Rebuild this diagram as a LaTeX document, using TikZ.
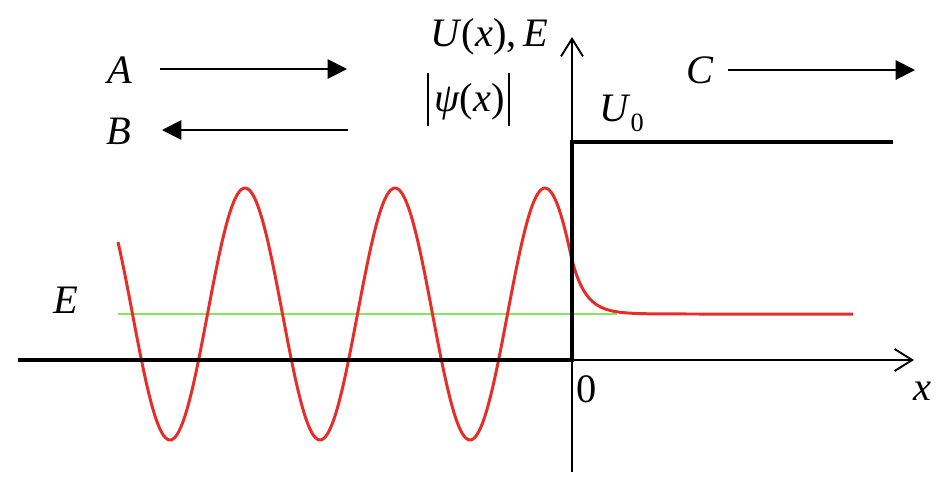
\documentclass[tikz,border=0pt]{standalone}
\usepackage{fontspec}
\setmainfont{Liberation Serif}
\usetikzlibrary{arrows.meta}
\definecolor{elevel}{RGB}{135,228,95}
\definecolor{wave}{RGB}{232,45,40}
\tikzset{
  lbl/.style={inner sep=0pt, font=\fontsize{23}{26}\selectfont},
  axis/.style={line width=1.1pt, -{Straight Barb[length=10pt,width=12.5pt,line width=1.1pt]}},
  wall/.style={line width=2.8pt},
  flow/.style={line width=1.1pt, -{Triangle[length=11pt,width=11pt]}},
}
\begin{document}
\begin{tikzpicture}[x=0.02cm,y=-0.02cm]
\useasboundingbox (0,0) rectangle (946,484);
% end points
\coordinate (o) at (572,360);
\coordinate (xl) at (18,360);
\coordinate (xr) at (914,360);
\coordinate (yb) at (572,472);
\coordinate (yt) at (572,37);
\coordinate (u0) at (572,142);
\coordinate (ue) at (893,142);
\coordinate (el) at (118,314);
\coordinate (er) at (617,314);
% labels
\node[lbl, anchor=base west] (uxe) at (430,46) {\textit{U}(\textit{x}),\,\textit{E}};
\node[lbl, anchor=base west] (psi) at (427,111) {\rule[-8.5pt]{0.9pt}{30pt}\kern3pt\textit{ψ}(\textit{x})\kern2pt\rule[-8.5pt]{0.9pt}{30pt}};
\node[lbl, anchor=base west] (ulab) at (599,121) {\textit{U}\raisebox{-6pt}{\fontsize{15}{16}\selectfont 0}};
\node[lbl] (zero) at (587,389) {0};
\node[lbl] (xlab) at (922,391) {\textit{x}};
\node[lbl] (elab) at (66,300) {\textit{E}};
\node[lbl] (A) at (120,70) {\textit{A}};
\node[lbl] (B) at (119,131) {\textit{B}};
\node[lbl] (C) at (700,70) {\textit{C}};
\coordinate (a1) at (160,69);
\coordinate (a2) at (347,69);
\coordinate (b1) at (348,130);
\coordinate (b2) at (162,130);
\coordinate (c1) at (728,70);
\coordinate (c2) at (915,70);
% energy level and wave function
\path[draw,elevel,line width=0.6pt] (el) -- (er);
\path[draw,wave,line width=1.7pt] plot[domain=118:572, samples=240] (\x, {314-126*cos(2.4*(\x-245))})
  -- plot[domain=572:853, samples=120] (\x, {314-54*exp(-(\x-572)/14)});
% axes and potential step
\path[draw,axis] (o) -- (xr);
\path[draw,axis] (yb) -- (yt);
\path[draw,wall] (xl) -- (o) -- (u0) -- (ue);
% waves A, B, C
\path[draw,flow] (a1) -- (a2);
\path[draw,flow] (b1) -- (b2);
\path[draw,flow] (c1) -- (c2);
\end{tikzpicture}
\end{document}
